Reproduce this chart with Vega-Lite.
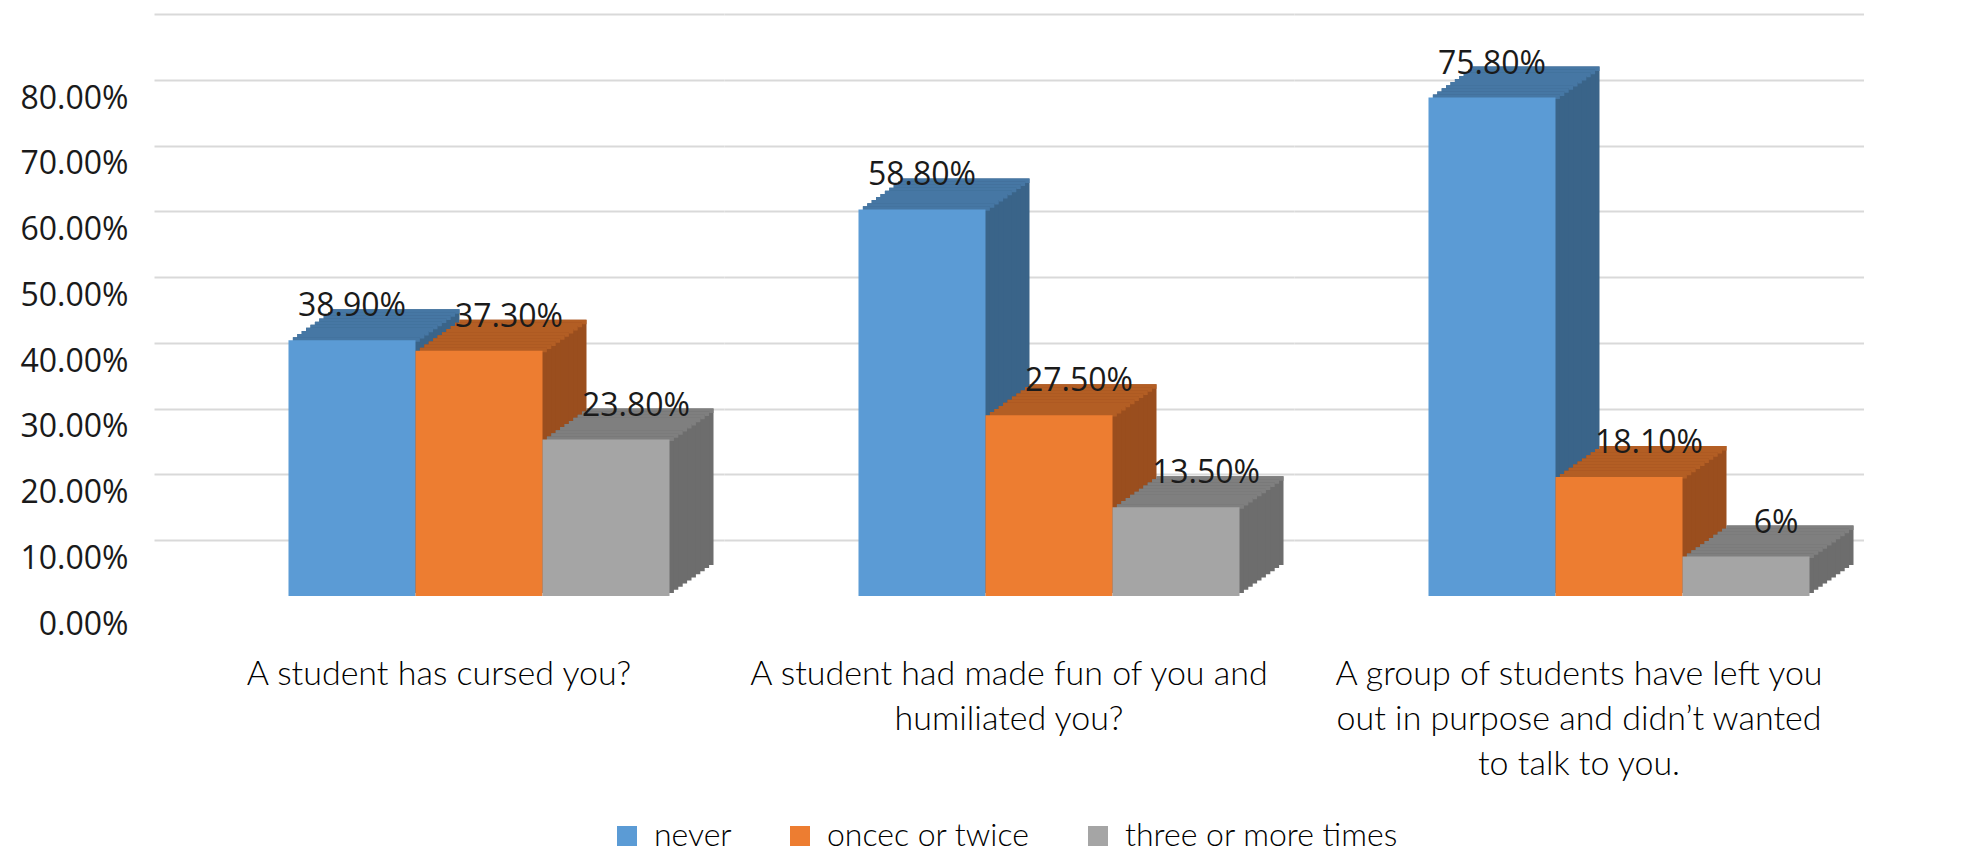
{
  "$schema": "https://vega.github.io/schema/vega-lite/v6.json",
  "padding": {"left": 19, "top": 47, "right": 0, "bottom": 0},
  "background": "white",
  "config": {"view": {"stroke": null}},
  "data": {"values": [
    {"question": "A student has cursed you?", "series": "never", "value": 0.389, "label": "38.90%"},
    {"question": "A student has cursed you?", "series": "oncec or twice", "value": 0.373, "label": "37.30%"},
    {"question": "A student has cursed you?", "series": "three or more times", "value": 0.238, "label": "23.80%"},
    {"question": "A student had made fun of you and humiliated you?", "series": "never", "value": 0.588, "label": "58.80%"},
    {"question": "A student had made fun of you and humiliated you?", "series": "oncec or twice", "value": 0.275, "label": "27.50%"},
    {"question": "A student had made fun of you and humiliated you?", "series": "three or more times", "value": 0.135, "label": "13.50%"},
    {"question": "A group of students have left you out in purpose and didn’t wanted to talk to you.", "series": "never", "value": 0.758, "label": "75.80%"},
    {"question": "A group of students have left you out in purpose and didn’t wanted to talk to you.", "series": "oncec or twice", "value": 0.181, "label": "18.10%"},
    {"question": "A group of students have left you out in purpose and didn’t wanted to talk to you.", "series": "three or more times", "value": 0.06, "label": "6%"}
  ]},
  "facet": {"column": {"field": "question", "type": "nominal",
    "sort": ["A student has cursed you?", "A student had made fun of you and humiliated you?", "A group of students have left you out in purpose and didn’t wanted to talk to you."],
    "header": {"title": null, "labelOrient": "bottom", "labelFont": "Lato", "labelFontWeight": 300, "labelFontSize": 34, "labelColor": "#000000", "labelLineHeight": 45, "labelBaseline": "top", "labelPadding": 62,
      "labelExpr": "datum.value == 'A student had made fun of you and humiliated you?' ? ['A student had made fun of you and', 'humiliated you?'] : datum.value == 'A group of students have left you out in purpose and didn’t wanted to talk to you.' ? ['A group of students have left you', 'out in purpose and didn’t wanted', 'to talk to you.'] : datum.value"}}},
  "spacing": 0,
  "spec": {
    "width": 570,
    "height": 526,
    "encoding": {
      "x": {"field": "series", "type": "nominal", "sort": ["never", "oncec or twice", "three or more times"], "axis": null, "scale": {"paddingInner": 0, "paddingOuter": 0.744}},
      "y": {"field": "value", "type": "quantitative", "scale": {"domain": [0, 0.8], "nice": false},
        "axis": {"title": null, "values": [0, 0.1, 0.2, 0.3, 0.4, 0.5, 0.6, 0.7, 0.8], "format": ".2%", "domain": false, "ticks": false, "grid": true, "gridColor": "#d9d9d9", "gridWidth": 2, "labelFont": "Open Sans", "labelFontSize": 32, "labelColor": "#1a1a1a", "labelPadding": 26, "tickOffset": -56, "labelOffset": 84}}
    },
    "layer": [
      {"mark": {"type": "bar", "xOffset": 84, "yOffset": -31, "y2Offset": -31, "fill": {"expr": "datum.series == 'never' ? '#3A6489' : datum.series == 'oncec or twice' ? '#9A4E1E' : '#6D6D6D'"}}, "encoding": {"y2": {"datum": 0}}},
      {"mark": {"type": "bar", "xOffset": 84, "yOffset": -31, "y2Offset": -26.5, "fill": {"expr": "datum.series == 'never' ? '#4677A4' : datum.series == 'oncec or twice' ? '#B35E24' : '#7F7F7F'"}}, "encoding": {"y2": {"field": "value"}}},
      {"mark": {"type": "bar", "xOffset": 79.6, "yOffset": -27.9, "y2Offset": -27.9, "fill": {"expr": "datum.series == 'never' ? '#3A6489' : datum.series == 'oncec or twice' ? '#9A4E1E' : '#6D6D6D'"}}, "encoding": {"y2": {"datum": 0}}},
      {"mark": {"type": "bar", "xOffset": 79.6, "yOffset": -27.9, "y2Offset": -23.4, "fill": {"expr": "datum.series == 'never' ? '#4677A4' : datum.series == 'oncec or twice' ? '#B35E24' : '#7F7F7F'"}}, "encoding": {"y2": {"field": "value"}}},
      {"mark": {"type": "bar", "xOffset": 75.2, "yOffset": -24.8, "y2Offset": -24.8, "fill": {"expr": "datum.series == 'never' ? '#3A6489' : datum.series == 'oncec or twice' ? '#9A4E1E' : '#6D6D6D'"}}, "encoding": {"y2": {"datum": 0}}},
      {"mark": {"type": "bar", "xOffset": 75.2, "yOffset": -24.8, "y2Offset": -20.3, "fill": {"expr": "datum.series == 'never' ? '#4677A4' : datum.series == 'oncec or twice' ? '#B35E24' : '#7F7F7F'"}}, "encoding": {"y2": {"field": "value"}}},
      {"mark": {"type": "bar", "xOffset": 70.8, "yOffset": -21.7, "y2Offset": -21.7, "fill": {"expr": "datum.series == 'never' ? '#3A6489' : datum.series == 'oncec or twice' ? '#9A4E1E' : '#6D6D6D'"}}, "encoding": {"y2": {"datum": 0}}},
      {"mark": {"type": "bar", "xOffset": 70.8, "yOffset": -21.7, "y2Offset": -17.2, "fill": {"expr": "datum.series == 'never' ? '#4677A4' : datum.series == 'oncec or twice' ? '#B35E24' : '#7F7F7F'"}}, "encoding": {"y2": {"field": "value"}}},
      {"mark": {"type": "bar", "xOffset": 66.4, "yOffset": -18.6, "y2Offset": -18.6, "fill": {"expr": "datum.series == 'never' ? '#3A6489' : datum.series == 'oncec or twice' ? '#9A4E1E' : '#6D6D6D'"}}, "encoding": {"y2": {"datum": 0}}},
      {"mark": {"type": "bar", "xOffset": 66.4, "yOffset": -18.6, "y2Offset": -14.1, "fill": {"expr": "datum.series == 'never' ? '#4677A4' : datum.series == 'oncec or twice' ? '#B35E24' : '#7F7F7F'"}}, "encoding": {"y2": {"field": "value"}}},
      {"mark": {"type": "bar", "xOffset": 62, "yOffset": -15.5, "y2Offset": -15.5, "fill": {"expr": "datum.series == 'never' ? '#3A6489' : datum.series == 'oncec or twice' ? '#9A4E1E' : '#6D6D6D'"}}, "encoding": {"y2": {"datum": 0}}},
      {"mark": {"type": "bar", "xOffset": 62, "yOffset": -15.5, "y2Offset": -11, "fill": {"expr": "datum.series == 'never' ? '#4677A4' : datum.series == 'oncec or twice' ? '#B35E24' : '#7F7F7F'"}}, "encoding": {"y2": {"field": "value"}}},
      {"mark": {"type": "bar", "xOffset": 57.6, "yOffset": -12.4, "y2Offset": -12.4, "fill": {"expr": "datum.series == 'never' ? '#3A6489' : datum.series == 'oncec or twice' ? '#9A4E1E' : '#6D6D6D'"}}, "encoding": {"y2": {"datum": 0}}},
      {"mark": {"type": "bar", "xOffset": 57.6, "yOffset": -12.4, "y2Offset": -7.9, "fill": {"expr": "datum.series == 'never' ? '#4677A4' : datum.series == 'oncec or twice' ? '#B35E24' : '#7F7F7F'"}}, "encoding": {"y2": {"field": "value"}}},
      {"mark": {"type": "bar", "xOffset": 53.2, "yOffset": -9.3, "y2Offset": -9.3, "fill": {"expr": "datum.series == 'never' ? '#3A6489' : datum.series == 'oncec or twice' ? '#9A4E1E' : '#6D6D6D'"}}, "encoding": {"y2": {"datum": 0}}},
      {"mark": {"type": "bar", "xOffset": 53.2, "yOffset": -9.3, "y2Offset": -4.8, "fill": {"expr": "datum.series == 'never' ? '#4677A4' : datum.series == 'oncec or twice' ? '#B35E24' : '#7F7F7F'"}}, "encoding": {"y2": {"field": "value"}}},
      {"mark": {"type": "bar", "xOffset": 48.8, "yOffset": -6.2, "y2Offset": -6.2, "fill": {"expr": "datum.series == 'never' ? '#3A6489' : datum.series == 'oncec or twice' ? '#9A4E1E' : '#6D6D6D'"}}, "encoding": {"y2": {"datum": 0}}},
      {"mark": {"type": "bar", "xOffset": 48.8, "yOffset": -6.2, "y2Offset": -1.7, "fill": {"expr": "datum.series == 'never' ? '#4677A4' : datum.series == 'oncec or twice' ? '#B35E24' : '#7F7F7F'"}}, "encoding": {"y2": {"field": "value"}}},
      {"mark": {"type": "bar", "xOffset": 44.4, "yOffset": -3.1, "y2Offset": -3.1, "fill": {"expr": "datum.series == 'never' ? '#3A6489' : datum.series == 'oncec or twice' ? '#9A4E1E' : '#6D6D6D'"}}, "encoding": {"y2": {"datum": 0}}},
      {"mark": {"type": "bar", "xOffset": 44.4, "yOffset": -3.1, "y2Offset": 1.4, "fill": {"expr": "datum.series == 'never' ? '#4677A4' : datum.series == 'oncec or twice' ? '#B35E24' : '#7F7F7F'"}}, "encoding": {"y2": {"field": "value"}}},
      {"mark": {"type": "bar", "xOffset": 40}, "encoding": {"y2": {"datum": 0}, "color": {"field": "series", "scale": {"domain": ["never", "oncec or twice", "three or more times"], "range": ["#5B9BD5", "#ED7D31", "#A5A5A5"]},
        "legend": {"orient": "none", "legendX": 457, "legendY": 750, "direction": "horizontal", "title": null, "symbolType": "square", "symbolSize": 400, "symbolStrokeWidth": 0, "labelFont": "Lato", "labelFontWeight": 300, "labelFontSize": 32, "labelColor": "#000000", "labelLimit": 0, "columnPadding": 52, "labelOffset": 11}}}},
      {"mark": {"type": "text", "font": "Open Sans", "fontSize": 32, "color": "#1a1a1a", "baseline": "middle", "align": "center", "yOffset": -34, "xOffset": {"expr": "datum.series == 'never' ? 40 : 70"}}, "encoding": {"text": {"field": "label"}}}
    ]
  }
}
